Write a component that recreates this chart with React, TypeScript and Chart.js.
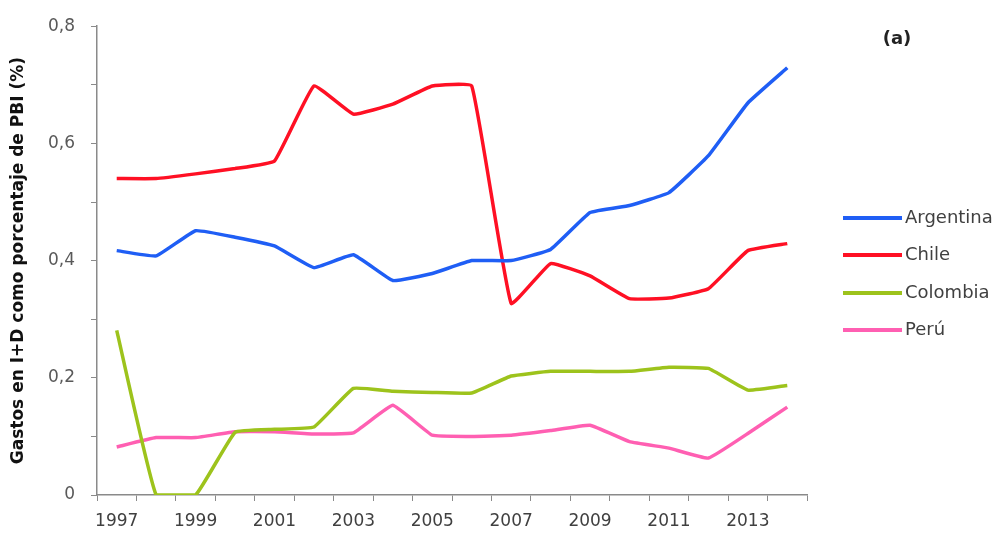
import React, { useEffect, useRef } from "react";
import { Chart, registerables } from "chart.js";

Chart.register(...registerables);

const years = ["1997","1998","1999","2000","2001","2002","2003","2004","2005","2006","2007","2008","2009","2010","2011","2012","2013","2014"];
const argentina = [0.417, 0.408, 0.451, 0.44, 0.425, 0.388, 0.41, 0.366, 0.378, 0.4, 0.4, 0.419, 0.482, 0.494, 0.516, 0.579, 0.669, 0.729];
const chile = [0.54, 0.54, 0.548, 0.557, 0.57, 0.698, 0.65, 0.667, 0.698, 0.698, 0.327, 0.395, 0.374, 0.335, 0.336, 0.352, 0.417, 0.429];
const colombia = [0.281, 0, 0, 0.107, 0.112, 0.116, 0.182, 0.177, 0.175, 0.174, 0.203, 0.211, 0.211, 0.211, 0.218, 0.216, 0.179, 0.187];
const peru = [0.082, 0.098, 0.098, 0.108, 0.108, 0.104, 0.106, 0.153, 0.102, 0.1, 0.102, 0.11, 0.119, 0.091, 0.08, 0.063, 0.105, 0.15];

const seriesNames = ["Argentina", "Chile", "Colombia", "Perú"];
const seriesColors = ["#1f5ef5", "#ff1024", "#9dc31c", "#ff5fb2"];
const yTitle = "Gastos en I+D como porcentaje de PBI (%)";
const panelLabel = "(a)";

const overlayPlugin = {
  id: "overlay",
  afterDraw(chart: any) {
    const ctx = chart.ctx;
    ctx.save();
    const ys = [218, 255, 293, 330];
    chart.data.datasets.forEach((ds: any, i: number) => {
      ctx.strokeStyle = ds.borderColor;
      ctx.lineWidth = 4;
      ctx.beginPath();
      ctx.moveTo(843, ys[i]);
      ctx.lineTo(902, ys[i]);
      ctx.stroke();
      ctx.fillStyle = "#404040";
      ctx.font = "18px 'DejaVu Sans'";
      ctx.textAlign = "left";
      ctx.textBaseline = "middle";
      ctx.fillText(ds.label, 905, ys[i]);
    });
    ctx.fillStyle = "#222";
    ctx.font = "bold 18px 'DejaVu Sans'";
    ctx.textAlign = "center";
    ctx.textBaseline = "middle";
    ctx.fillText(panelLabel, 897, 39);
    ctx.restore();
  },
};

export default function App() {
  const ref = useRef<HTMLCanvasElement | null>(null);
  useEffect(() => {
    if (!ref.current) return;
    const chart = new Chart(ref.current, {
      type: "line",
      data: {
        labels: years,
        datasets: [argentina, chile, colombia, peru].map((d, i) => ({
          label: seriesNames[i],
          data: d,
          borderColor: seriesColors[i],
          backgroundColor: seriesColors[i],
          borderWidth: 3.5,
          pointRadius: 0,
          tension: 0.1,
          fill: false,
        })),
      },
      options: {
        animation: false,
        responsive: false,
        layout: { padding: { top: 25, right: 198, left: 0, bottom: 0 } },
        plugins: { legend: { display: false }, tooltip: { enabled: false } },
        scales: {
          x: {
            type: "category",
            offset: true,
            afterFit: (s: any) => { s.height = 40; },
            grid: { offset: true, drawOnChartArea: false, drawTicks: true, tickLength: 6, color: "#8a8a8a" },
            border: { color: "#8a8a8a", width: 1.5 },
            ticks: {
              autoSkip: false,
              maxRotation: 0,
              padding: 10,
              color: "#404040",
              font: { family: "'DejaVu Sans'", size: 17 },
              callback: (_v: any, i: number) => (i % 2 === 0 ? years[i] : ""),
            },
          },
          y: {
            min: 0,
            max: 0.8,
            afterFit: (s: any) => { s.width = 97; },
            grid: { drawOnChartArea: false, drawTicks: true, tickLength: 6, color: "#8a8a8a" },
            border: { color: "#8a8a8a", width: 1.5 },
            ticks: {
              stepSize: 0.1,
              padding: 16,
              color: "#595959",
              font: { family: "'DejaVu Sans'", size: 17 },
              callback: (v: any) => {
                const n = Math.round(Number(v) * 10);
                if (n % 2 !== 0) return "";
                if (n === 0) return "0";
                return (n / 10).toFixed(1).replace(".", ",");
              },
            },
            title: {
              display: true,
              text: yTitle,
              color: "#111",
              font: { family: "'DejaVu Sans'", size: 17, weight: "bold" },
              padding: { top: 8, bottom: 0 },
            },
          },
        },
      },
      plugins: [overlayPlugin],
    });
    return () => chart.destroy();
  }, []);
  return (
    <div style={{ position: "absolute", left: 0, top: 0, width: 1005, height: 535, background: "#fff" }}>
      <canvas ref={ref} width={1005} height={535} style={{ width: 1005, height: 535, display: "block" }} />
    </div>
  );
}
